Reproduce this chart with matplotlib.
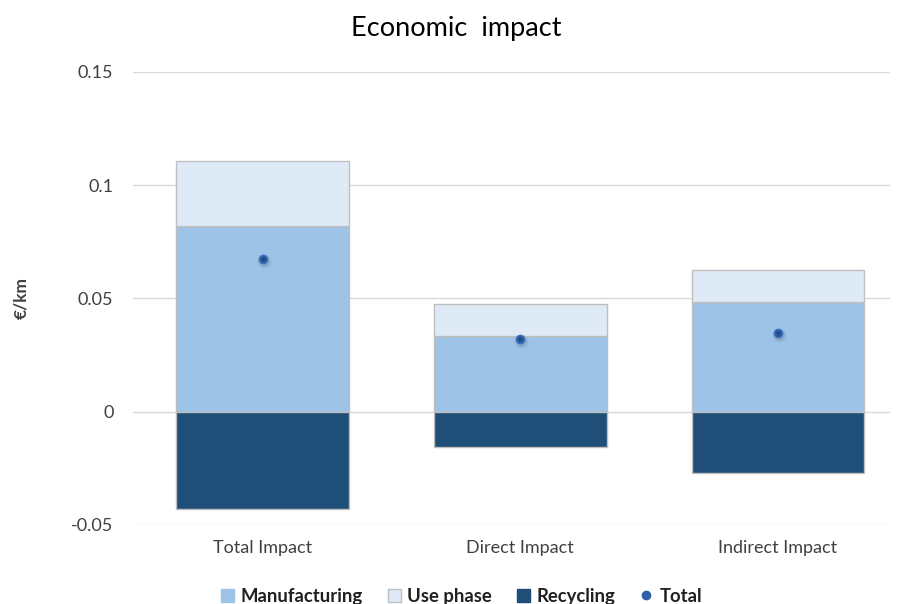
import numpy as np
import matplotlib
matplotlib.use("Agg")
import matplotlib.pyplot as plt
from matplotlib.lines import Line2D
from matplotlib.patches import Patch

plt.rcParams['font.family'] = ['Lato', 'DejaVu Sans']

categories = ["Total Impact", "Direct Impact", "Indirect Impact"]
manufacturing = [0.0821, 0.0335, 0.0485]
use_phase = [0.0286, 0.0141, 0.0141]
recycling = [-0.0428, -0.0154, -0.0269]
total = [0.0675, 0.0322, 0.0349]

yticks = [-0.05, 0, 0.05, 0.1, 0.15]
ytick_labels = ["-0.05", "0", "0.05", "0.1", "0.15"]

c_manu = "#9DC3E6"
c_use = "#DEEBF7"
c_rec = "#1F4E79"
c_tot = "#2F5FA7"

fig = plt.figure(figsize=(8.98, 6.04), dpi=100)
ax = fig.add_axes([0.148, 0.131, 0.843, 0.750])

x = np.arange(len(categories))
w = 0.67
ax.bar(x, manufacturing, w, color=c_manu, edgecolor="#BFBFBF", linewidth=1, zorder=2)
ax.bar(x, use_phase, w, bottom=manufacturing, color=c_use, edgecolor="#BFBFBF", linewidth=1, zorder=2)
ax.bar(x, recycling, w, color=c_rec, edgecolor="#BFBFBF", linewidth=1, zorder=2)

# soft shadow under the dots
for s, a in [(110, 0.06), (75, 0.08), (45, 0.1)]:
    ax.scatter(x + 0.004, np.array(total) - 0.0012, s=s, color="#404040", alpha=a, lw=0, zorder=3)
ax.scatter(x, total, s=38, color=c_tot, edgecolor="#3A70C8", linewidth=0.8, zorder=4)
ax.scatter(x, total, s=10, color="#1F4E79", lw=0, zorder=5)

ax.set_xlim(-0.504, 2.435)
ax.set_ylim(-0.05, 0.15)
ax.set_yticks(yticks)
ax.set_yticklabels(ytick_labels)
ax.set_xticks(x)
ax.set_xticklabels(categories)
ax.tick_params(axis='both', length=0, labelsize=13, colors="#404040")
ax.tick_params(axis='y', pad=14)
ax.tick_params(axis='x', pad=11)
ax.grid(axis='y', color="#D9D9D9", linewidth=1, zorder=0)
for sp in ax.spines.values():
    sp.set_visible(False)

ax.set_ylabel("€/km", fontsize=12.5, fontweight='bold', color="#404040", labelpad=30)
fig.text(0.508, 0.953, "Economic  impact", ha='center', va='center', fontsize=19.5, color="#000000")

handles = [
    Patch(facecolor=c_manu, edgecolor=c_manu),
    Patch(facecolor=c_use, edgecolor="#BFBFBF"),
    Patch(facecolor=c_rec, edgecolor=c_rec),
    Line2D([], [], marker='o', linestyle='', markersize=6, color=c_tot),
]
labels = ["Manufacturing", "Use phase", "Recycling", "Total"]
leg = fig.legend(handles, labels, loc='center', bbox_to_anchor=(0.514, 0.013), ncol=4,
                 frameon=False, prop={'weight': 'bold', 'size': 13.3},
                 handlelength=0.7, handleheight=0.7, handletextpad=0.35, columnspacing=1.35)
for t in leg.get_texts():
    t.set_color("#202020")

fig.savefig("out.png", dpi=100)
